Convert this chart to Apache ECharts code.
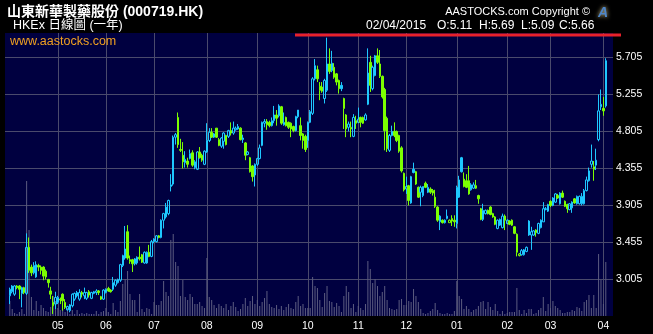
<!DOCTYPE html>
<html><head><meta charset="utf-8">
<script src="https://cdn.jsdelivr.net/npm/echarts@6/dist/echarts.min.js"></script>
<style>html,body{margin:0;padding:0;background:#000;}#c{width:653px;height:334px;}</style>
</head><body><div id="c"></div>
<script>
const stockName = '山東新華製藥股份 (000719.HK)';
const chartSubtitle = 'HKEx 日線圖 (一年)';
const siteText = 'www.aastocks.com';
const copyrightText = 'AASTOCKS.com Copyright ©';
const lastDate = '02/04/2015';

const monthKeys = ['2014-04','2014-05','2014-06','2014-07','2014-08','2014-09','2014-10','2014-11','2014-12','2015-01','2015-02','2015-03','2015-04'];
const tradingDays = [20,20,20,22,21,21,21,20,21,21,18,22,2];

const priceAxisMin = 2.555, priceAxisMax = 5.997, priceAxisStep = 0.45;

const opens = [
2.80,2.85,2.82,2.92,2.92,2.83,2.90,2.83,3.39,3.15,3.08,3.03,3.17,3.15,3.15,3.10,3.00,2.86,2.72,2.70,
2.72,2.76,2.82,2.72,2.63,2.62,2.68,2.76,2.80,2.76,2.84,2.80,2.77,2.85,2.77,2.83,2.84,2.86,2.79,2.76,
2.84,2.89,2.87,2.88,2.93,2.96,2.99,3.17,3.26,3.58,3.24,3.24,3.19,3.20,3.27,3.30,3.20,3.20,3.33,3.28,
3.46,3.46,3.53,3.51,3.72,3.76,3.80,4.13,4.16,4.73,4.97,4.58,4.51,4.42,4.44,4.47,4.54,4.36,4.34,4.55,4.51,4.40,
4.55,4.69,4.79,4.73,4.84,4.70,4.62,4.68,4.75,4.74,4.81,4.78,4.82,4.83,4.84,4.70,4.66,4.52,4.48,4.38,4.27,
4.40,4.47,4.63,4.90,4.92,4.91,4.87,4.93,5.00,4.99,5.10,4.88,4.97,4.91,4.90,4.86,4.81,5.06,4.87,4.77,4.74,
4.69,4.91,5.02,5.44,5.55,5.35,5.34,5.20,5.30,5.62,5.54,5.58,5.50,5.42,5.36,5.20,5.00,4.85,4.83,4.74,4.93,
4.91,4.97,4.97,4.94,5.13,5.64,5.32,5.48,5.72,5.62,5.47,5.31,4.96,4.57,4.75,4.80,4.80,4.75,4.60,4.29,
4.10,4.14,3.93,4.34,4.31,4.12,4.06,4.02,4.17,4.06,4.10,4.08,4.00,3.88,3.70,3.72,3.69,3.74,3.69,3.74,3.72,
3.68,4.00,4.48,4.22,4.20,4.20,4.09,4.11,4.14,4.02,3.86,3.73,3.80,3.84,3.88,3.80,3.76,3.62,3.66,3.63,3.77,
3.68,3.71,3.72,3.64,3.55,3.29,3.30,3.30,3.34,3.71,3.54,3.54,3.60,3.56,3.63,3.70,3.85,3.83,
3.95,3.90,3.94,4.02,3.92,4.05,3.95,3.91,3.85,3.87,3.98,3.92,3.92,3.92,3.92,4.08,4.20,4.40,4.34,4.39,4.70,5.10,
5.08,5.11];
const closes = [
2.88,2.92,2.92,2.90,2.88,2.90,2.84,3.39,3.11,3.08,3.17,3.18,3.15,3.11,3.04,3.03,2.96,2.82,2.68,2.78,
2.78,2.75,2.74,2.66,2.67,2.69,2.82,2.83,2.84,2.84,2.82,2.84,2.84,2.81,2.84,2.85,2.86,2.84,2.76,2.87,
2.88,2.86,2.85,2.96,2.99,3.00,3.18,3.29,3.37,3.26,3.22,3.19,3.25,3.27,3.25,3.21,3.33,3.33,3.28,3.46,
3.49,3.53,3.51,3.72,3.80,3.88,3.96,4.15,4.73,4.76,4.64,4.57,4.43,4.46,4.40,4.53,4.39,4.43,4.55,4.48,4.45,4.56,
4.69,4.79,4.73,4.77,4.73,4.63,4.72,4.78,4.64,4.81,4.78,4.84,4.84,4.86,4.70,4.72,4.51,4.55,4.31,4.25,4.40,
4.47,4.60,4.91,4.92,4.88,4.87,4.93,5.00,4.96,5.11,4.90,4.91,4.87,4.85,4.83,4.81,4.98,4.98,4.75,4.69,4.58,
4.91,5.04,5.44,5.60,5.44,5.30,5.29,5.42,5.62,5.53,5.63,5.46,5.40,5.32,5.32,5.08,4.83,4.89,4.85,4.97,4.90,
4.95,4.91,4.90,5.00,5.51,5.36,5.58,5.72,5.64,5.47,5.22,4.81,4.59,4.75,4.80,4.75,4.69,4.56,4.32,4.09,
4.13,3.96,4.25,4.30,4.16,4.00,4.12,4.13,4.12,4.12,4.06,4.05,3.89,3.72,3.77,3.69,3.72,3.77,3.72,3.71,3.70,
4.12,4.21,4.31,4.13,4.12,4.04,4.15,4.15,4.11,3.98,3.73,3.84,3.84,3.80,3.79,3.76,3.67,3.72,3.73,3.77,3.72,
3.72,3.67,3.66,3.56,3.33,3.31,3.35,3.36,3.39,3.54,3.58,3.59,3.57,3.68,3.72,3.86,3.86,3.91,
3.90,3.99,4.04,3.99,4.05,4.00,3.89,3.86,3.92,3.94,3.93,4.01,4.01,4.01,4.08,4.21,4.32,4.44,4.37,4.45,5.05,5.13,
5.05,5.66];
const lows = [
2.70,2.83,2.80,2.88,2.76,2.66,2.82,2.81,3.08,3.04,3.06,3.02,3.10,3.06,2.99,3.00,2.90,2.76,2.58,2.64,
2.70,2.70,2.62,2.64,2.62,2.60,2.66,2.74,2.78,2.74,2.78,2.76,2.75,2.78,2.76,2.82,2.81,2.81,2.75,2.75,
2.83,2.85,2.84,2.86,2.91,2.95,2.97,3.15,3.24,3.24,3.19,3.09,3.17,3.18,3.23,3.20,3.19,3.19,3.27,3.27,
3.44,3.45,3.50,3.50,3.62,3.74,3.78,4.07,4.14,4.64,4.60,4.55,4.35,4.36,4.36,4.46,4.37,4.34,4.33,4.47,4.43,4.39,
4.54,4.67,4.72,4.72,4.72,4.62,4.60,4.59,4.63,4.72,4.75,4.76,4.81,4.82,4.69,4.66,4.45,4.51,4.30,4.19,4.13,
4.38,4.46,4.62,4.85,4.82,4.85,4.86,4.90,4.87,4.97,4.88,4.87,4.86,4.83,4.73,4.79,4.80,4.96,4.69,4.59,4.55,
4.60,4.90,5.00,5.42,5.40,5.18,5.27,5.14,5.28,5.50,5.52,5.44,5.36,5.26,5.29,4.83,4.73,4.80,4.73,4.73,4.83,
4.90,4.85,4.89,4.93,5.12,5.28,5.30,5.47,5.62,5.45,5.20,4.57,4.55,4.55,4.74,4.73,4.67,4.54,4.30,4.07,
4.04,3.90,3.92,4.29,4.15,3.99,3.89,4.00,4.11,4.05,4.04,4.02,3.87,3.70,3.60,3.68,3.68,3.73,3.69,3.65,3.64,
3.62,3.99,4.30,4.12,4.11,4.03,4.08,4.10,4.10,3.92,3.72,3.71,3.79,3.79,3.78,3.75,3.66,3.61,3.65,3.62,3.60,
3.67,3.66,3.65,3.55,3.28,3.28,3.29,3.29,3.33,3.53,3.36,3.53,3.52,3.55,3.62,3.70,3.84,3.82,
3.88,3.89,3.93,3.98,3.91,3.99,3.88,3.81,3.84,3.81,3.92,3.91,3.91,3.90,3.91,4.07,4.19,4.36,4.20,4.33,4.68,5.06,
4.99,5.09];
const highs = [
2.90,2.93,2.93,2.93,2.93,2.91,2.91,3.56,3.51,3.18,3.21,3.22,3.19,3.17,3.16,3.12,3.00,2.91,2.80,2.85,
2.80,2.78,2.83,2.76,2.68,2.70,2.83,2.84,2.86,2.88,2.86,2.90,2.85,2.87,2.85,2.86,2.88,2.87,2.80,2.88,
2.89,2.91,2.88,3.03,3.00,3.01,3.19,3.30,3.65,3.66,3.29,3.25,3.26,3.28,3.40,3.31,3.34,3.34,3.42,3.48,
3.50,3.54,3.54,3.73,3.81,3.93,3.97,4.28,4.75,4.78,5.03,4.71,4.67,4.56,4.48,4.58,4.57,4.45,4.56,4.61,4.53,4.57,
4.90,4.84,4.84,4.78,4.84,4.72,4.73,4.79,4.76,4.82,4.91,4.92,4.86,4.89,4.85,4.76,4.67,4.56,4.49,4.39,4.41,
4.48,4.64,4.92,4.95,4.95,4.93,4.97,5.11,5.06,5.13,5.11,5.03,4.98,4.92,4.91,4.87,4.99,5.06,4.97,4.78,4.76,
4.92,5.06,5.46,5.68,5.60,5.40,5.40,5.44,5.94,5.81,5.78,5.63,5.51,5.43,5.40,5.21,5.01,4.92,4.92,5.01,4.99,
5.09,4.98,4.98,5.02,5.81,5.72,5.60,5.73,5.81,5.79,5.48,5.33,4.98,4.77,4.87,4.91,4.81,4.76,4.62,4.30,
4.25,4.15,4.26,4.42,4.32,4.13,4.14,4.13,4.19,4.16,4.12,4.10,4.09,3.89,3.78,3.73,3.73,3.85,3.73,3.78,3.78,
4.14,4.26,4.49,4.30,4.28,4.38,4.17,4.18,4.21,4.03,3.87,3.92,3.85,3.85,3.89,3.81,3.77,3.73,3.74,3.80,3.79,
3.73,3.72,3.73,3.65,3.56,3.32,3.37,3.37,3.40,3.72,3.64,3.60,3.61,3.69,3.73,3.94,3.88,3.92,
3.96,4.00,4.05,4.04,4.06,4.08,3.96,3.92,3.93,3.95,3.99,4.02,4.02,4.05,4.10,4.25,4.36,4.64,4.44,4.59,5.25,5.31,
5.22,5.69];
const volumes = [
15,7,3,2,4,7,2,135,86,19,6,15,5,11,8,5,4,9,20,15,
8,6,7,4,8,2,6,2,6,2,3,2,3,2,2,2,5,2,4,5,
8,4,2,13,6,4,15,32,37,45,22,16,16,4,22,7,4,8,7,2,
14,11,11,15,35,24,20,76,82,54,50,20,36,19,16,22,19,12,12,14,10,8,
58,19,16,11,8,12,10,8,12,6,10,14,9,5,7,12,18,10,15,20,12,
16,10,14,18,25,12,9,8,11,7,10,6,9,12,8,7,14,20,10,12,8,
8,8,39,30,28,16,9,23,30,15,14,9,13,10,4,20,30,24,8,12,4,
10,8,6,12,55,47,33,37,30,20,24,30,16,8,7,6,7,16,17,11,
11,15,14,27,20,14,7,3,2,3,5,7,13,6,3,2,2,3,2,2,5,
35,20,17,7,10,7,4,6,7,10,14,15,7,14,9,6,12,5,2,5,2,
3,4,4,4,28,6,2,6,3,7,7,2,3,6,8,19,5,12,
8,15,10,8,6,3,3,4,4,6,5,9,8,5,14,16,21,8,21,8,62,36,
12,54];

const UP = '#1ec8ff', DOWN = '#7cff00', BG = '#000040', GRIDC = '#4a4a6c', VOLC = '#5c5c80';
const PAD_START = 2, PAD_END = 3;

const categories = [];
const monthStart = new Set();
for (let i = 0; i < PAD_START; i++) categories.push('pad-s' + i);
monthKeys.forEach((mk, m) => {
  for (let d = 1; d <= tradingDays[m]; d++) {
    if (d === 1 && m > 0) monthStart.add(categories.length);
    categories.push(mk + '#' + d);
  }
});
for (let i = 0; i < PAD_END; i++) categories.push('pad-e' + i);

const candleData = [], volData = [];
for (let i = 0; i < PAD_START; i++) { candleData.push('-'); volData.push('-'); }
for (let k = 0; k < closes.length; k++) {
  const prev = k > 0 ? closes[k - 1] : opens[k];
  const col = closes[k] >= prev ? UP : DOWN;
  const fill = closes[k] < opens[k] ? col : 'rgba(0,0,0,0)';
  candleData.push({ value: [opens[k], closes[k], lows[k], highs[k]],
    itemStyle: { color: fill, color0: fill, borderColor: col, borderColor0: col, borderColorDoji: col } });
  volData.push(volumes[k]);
}
for (let i = 0; i < PAD_END; i++) { candleData.push('-'); volData.push('-'); }

const L = closes.length - 1;
const hdr = [lastDate, 'O:' + opens[L].toFixed(2), 'H:' + highs[L].toFixed(2), 'L:' + lows[L].toFixed(2), 'C:' + closes[L].toFixed(2)];
const hdrX = [366, 437, 479, 521, 559];

const chart = echarts.init(document.getElementById('c'), null, { renderer: 'canvas', width: 653, height: 334 });
const FONT = '"Liberation Sans", Arial, "Noto Sans CJK TC", sans-serif';
const graphics = [
  { type: 'text', x: 7, y: 12, z: 50, style: { text: stockName, font: 'bold 14px ' + FONT, fill: '#fff', verticalAlign: 'middle' } },
  { type: 'text', x: 13, y: 26, z: 50, style: { text: chartSubtitle, font: '12.5px ' + FONT, fill: '#fff', verticalAlign: 'middle' } },
  { type: 'text', x: 10, y: 42, z: 50, style: { text: siteText, font: '12.5px ' + FONT, fill: '#f0a020', verticalAlign: 'middle' } },
  { type: 'text', x: 590, y: 11.5, z: 50, style: { text: copyrightText, font: '11px ' + FONT, fill: '#fff', align: 'right', verticalAlign: 'middle' } },
  { type: 'text', x: 603, y: 13, z: 50, style: { text: 'A', font: 'bold italic 14px ' + FONT, fill: '#4f86c8', align: 'center', verticalAlign: 'middle', textShadowBlur: 4, textShadowColor: '#d8c890' } },
  { type: 'rect', z: 60, shape: { x: 295, y: 33.5, width: 326, height: 3 }, style: { fill: '#e8212b' } }
];
hdr.forEach((t, i) => graphics.push({ type: 'text', x: hdrX[i], y: 25.5, z: 50, style: { text: t, font: '12px ' + FONT, fill: '#fff', verticalAlign: 'middle' } }));

chart.setOption({
  animation: false,
  backgroundColor: '#000',
  grid: { left: 5, right: 40, top: 33, bottom: 18, show: true, backgroundColor: BG, borderWidth: 0, containLabel: false },
  xAxis: {
    type: 'category', data: categories, boundaryGap: false,
    axisLine: { show: false }, axisTick: { show: false },
    axisLabel: { color: '#fff', fontSize: 10.5, fontFamily: FONT, margin: 5,
      interval: (i) => monthStart.has(i),
      formatter: (v) => v.startsWith('pad') ? '' : v.slice(5, 7) },
    splitLine: { show: true, interval: (i) => monthStart.has(i), lineStyle: { color: GRIDC, width: 1 } }
  },
  yAxis: [
    { type: 'value', position: 'right', min: priceAxisMin, max: priceAxisMax, interval: priceAxisStep,
      axisLine: { show: false }, axisTick: { show: false },
      axisLabel: { color: '#fff', fontSize: 10.5, fontFamily: FONT, margin: 3, showMinLabel: false, showMaxLabel: false,
        formatter: (v) => v.toFixed(3) },
      splitLine: { show: true, showMinLine: false, showMaxLine: false, lineStyle: { color: GRIDC, width: 1 } } },
    { type: 'value', min: 0, max: 283, show: false, splitLine: { show: false } }
  ],
  series: [
    { type: 'bar', yAxisIndex: 1, data: volData, barWidth: 1, itemStyle: { color: VOLC }, silent: true, z: 1 },
    { type: 'candlestick', yAxisIndex: 0, data: candleData, barWidth: 2, itemStyle: { borderWidth: 1 }, z: 2 }
  ],
  graphic: graphics
});
</script></body></html>
